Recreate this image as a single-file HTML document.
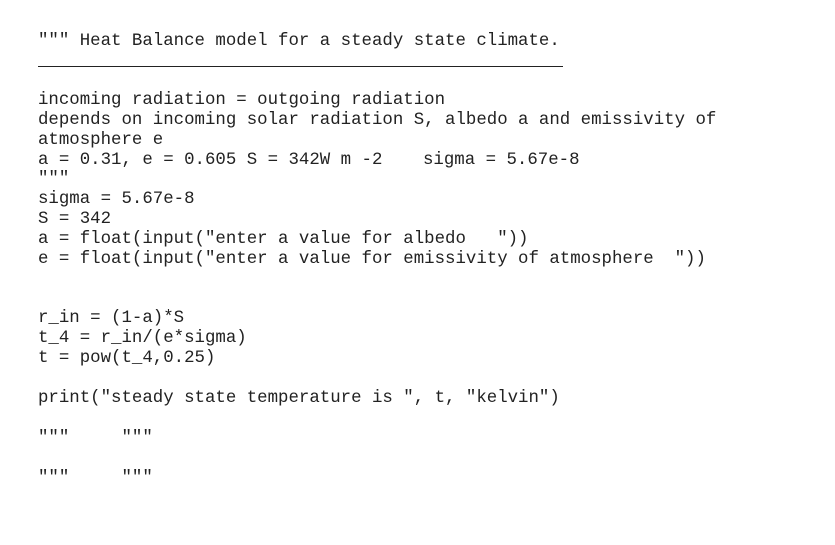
<!DOCTYPE html>
<html><head><meta charset="utf-8"><style>
body{margin:0;width:835px;height:545px;background:#fff;position:relative;overflow:hidden}
.l{position:absolute;left:38px;font-family:"Liberation Mono","Courier New",monospace;font-size:17.4px;line-height:20px;white-space:pre;color:#222}
.hr{position:absolute;left:38px;top:66px;width:525px;height:1px;background:#222}
</style></head><body>
<div class="l" style="top:32px">""" Heat Balance model for a steady state climate.</div>
<div class="hr"></div>
<div class="l" style="top:91px">incoming radiation = outgoing radiation</div>
<div class="l" style="top:111px">depends on incoming solar radiation S, albedo a and emissivity of</div>
<div class="l" style="top:131px">atmosphere e</div>
<div class="l" style="top:151px">a = 0.31, e = 0.605 S = 342W m -2</div>
<div class="l" style="top:151px;left:423px">sigma = 5.67e-8</div>
<div class="l" style="top:170px">"""</div>
<div class="l" style="top:190px">sigma = 5.67e-8</div>
<div class="l" style="top:210px">S = 342</div>
<div class="l" style="top:230px">a = float(input("enter a value for albedo   "))</div>
<div class="l" style="top:250px">e = float(input("enter a value for emissivity of atmosphere  "))</div>
<div class="l" style="top:309px">r_in = (1-a)*S</div>
<div class="l" style="top:329px">t_4 = r_in/(e*sigma)</div>
<div class="l" style="top:349px">t = pow(t_4,0.25)</div>
<div class="l" style="top:389px">print("steady state temperature is ", t, "kelvin")</div>
<div class="l" style="top:429px">"""     """</div>
<div class="l" style="top:469px">"""     """</div>
</body></html>
